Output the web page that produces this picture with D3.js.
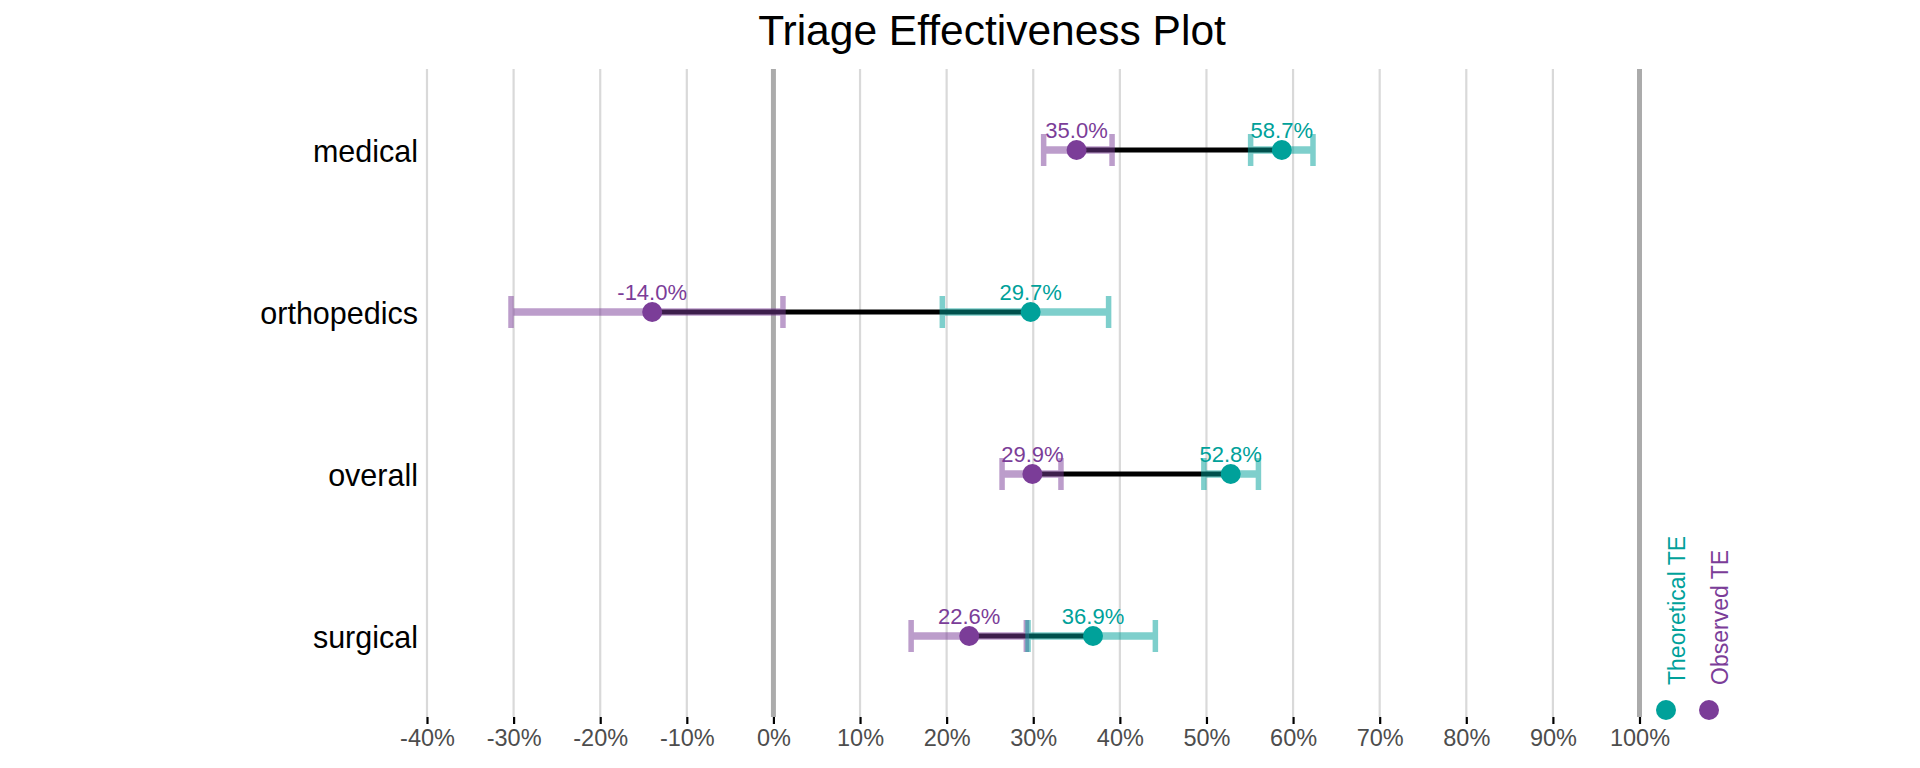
<!DOCTYPE html>
<html>
<head>
<meta charset="utf-8">
<script src="https://cdn.jsdelivr.net/npm/d3@7"></script>
<style>
  html, body { margin: 0; padding: 0; background: #fff; }
  svg text { font-family: "Liberation Sans", Arial, Helvetica, sans-serif; }
</style>
</head>
<body>
<svg id="chart" width="1920" height="768"></svg>
<script>
const categories = ["medical", "orthopedics", "overall", "surgical"];
const observed    = [0.350, -0.140, 0.299, 0.226];
const observedLow = [0.312, -0.303, 0.264, 0.159];
const observedHigh= [0.391,  0.011, 0.332, 0.292];
const theoretical    = [0.587, 0.297, 0.528, 0.369];
const theoreticalLow = [0.551, 0.195, 0.497, 0.294];
const theoreticalHigh= [0.623, 0.387, 0.560, 0.441];
const xTicks = [-0.4,-0.3,-0.2,-0.1,0,0.1,0.2,0.3,0.4,0.5,0.6,0.7,0.8,0.9,1.0];
const legendLabels = ["Theoretical TE", "Observed TE"];

const colObs = "#7B3D98";
const colTheo = "#00A19A";

const svg = d3.select("#chart");
const panelTop = 69, panelBottom = 717;

const x = d3.scaleLinear().domain([-0.4, 1.0]).range([427, 1639.5]);
const y = d3.scaleBand().domain(categories).range([panelTop, panelBottom]);
const cy = c => y(c) + y.bandwidth() / 2;
const fmt = v => (v * 100).toFixed(1) + "%";

// title
svg.append("text").attr("x", 992).attr("y", 45)
  .attr("text-anchor", "middle").attr("font-size", 42.5).attr("fill", "#000")
  .text("Triage Effectiveness Plot");

// grid
const grid = svg.append("g");
grid.selectAll("line").data(xTicks).join("line")
  .attr("x1", d => x(d)).attr("x2", d => x(d))
  .attr("y1", panelTop).attr("y2", panelBottom)
  .attr("stroke", d => (d === 0 || d === 1) ? "#ABABAB" : "#D9D9D9")
  .attr("stroke-width", d => (d === 0 || d === 1) ? 5 : 2.2);

// x axis
const xAxis = d3.axisBottom(x).tickValues(xTicks).tickSize(7).tickPadding(5)
  .tickFormat(d => Math.round(d * 100) + "%");
const gx = svg.append("g").attr("transform", `translate(0,${panelBottom})`).call(xAxis);
gx.select(".domain").remove();
gx.selectAll(".tick line").attr("stroke", "#000").attr("stroke-width", 2.2);
gx.selectAll(".tick text").attr("font-size", 23.5).attr("fill", "#4D4D4D")
  .attr("font-family", "Liberation Sans, Arial, sans-serif");

// y axis labels
const yAxis = d3.axisLeft(y).tickSize(0).tickPadding(0);
const gy = svg.append("g").attr("transform", `translate(418,0)`).call(yAxis);
gy.select(".domain").remove();
gy.selectAll(".tick text").attr("font-size", 30.5).attr("fill", "#000").attr("dy", "0.4em")
  .attr("font-family", "Liberation Sans, Arial, sans-serif");

const rows = categories.map((c, i) => ({
  c, obs: observed[i], oL: observedLow[i], oH: observedHigh[i],
  th: theoretical[i], tL: theoreticalLow[i], tH: theoreticalHigh[i]
}));

// connecting black segment
svg.append("g").selectAll("line").data(rows).join("line")
  .attr("x1", d => x(d.obs)).attr("x2", d => x(d.th))
  .attr("y1", d => cy(d.c)).attr("y2", d => cy(d.c))
  .attr("stroke", "#000").attr("stroke-width", 5);

// error bars
function errorBars(lowKey, highKey, color) {
  const g = svg.append("g");
  rows.forEach(d => {
    const eg = g.append("g").attr("opacity", 0.5);
    const yc = cy(d.c);
    eg.append("line").attr("x1", x(d[lowKey])).attr("x2", x(d[highKey]))
      .attr("y1", yc).attr("y2", yc).attr("stroke", color).attr("stroke-width", 7.5);
    [d[lowKey], d[highKey]].forEach(v => {
      eg.append("line").attr("x1", x(v)).attr("x2", x(v))
        .attr("y1", yc - 16).attr("y2", yc + 16)
        .attr("stroke", color).attr("stroke-width", 5.5);
    });
  });
}
errorBars("oL", "oH", colObs);
errorBars("tL", "tH", colTheo);

// points
svg.append("g").selectAll("circle").data(rows).join("circle")
  .attr("cx", d => x(d.obs)).attr("cy", d => cy(d.c)).attr("r", 10).attr("fill", colObs);
svg.append("g").selectAll("circle").data(rows).join("circle")
  .attr("cx", d => x(d.th)).attr("cy", d => cy(d.c)).attr("r", 10).attr("fill", colTheo);

// value labels
svg.append("g").selectAll("text").data(rows).join("text")
  .attr("x", d => x(d.obs)).attr("y", d => cy(d.c) - 12)
  .attr("text-anchor", "middle").attr("font-size", 22).attr("fill", colObs)
  .text(d => fmt(d.obs));
svg.append("g").selectAll("text").data(rows).join("text")
  .attr("x", d => x(d.th)).attr("y", d => cy(d.c) - 12)
  .attr("text-anchor", "middle").attr("font-size", 22).attr("fill", colTheo)
  .text(d => fmt(d.th));

// legend
const legendColors = [colTheo, colObs];
const legendX = [1666, 1709];
const lg = svg.append("g");
legendLabels.forEach((lab, i) => {
  lg.append("circle").attr("cx", legendX[i]).attr("cy", 710).attr("r", 10).attr("fill", legendColors[i]);
  lg.append("text")
    .attr("transform", `translate(${legendX[i] + 19},685) rotate(-90)`)
    .attr("text-anchor", "start").attr("font-size", 23).attr("fill", legendColors[i])
    .text(lab);
});
</script>
</body>
</html>
